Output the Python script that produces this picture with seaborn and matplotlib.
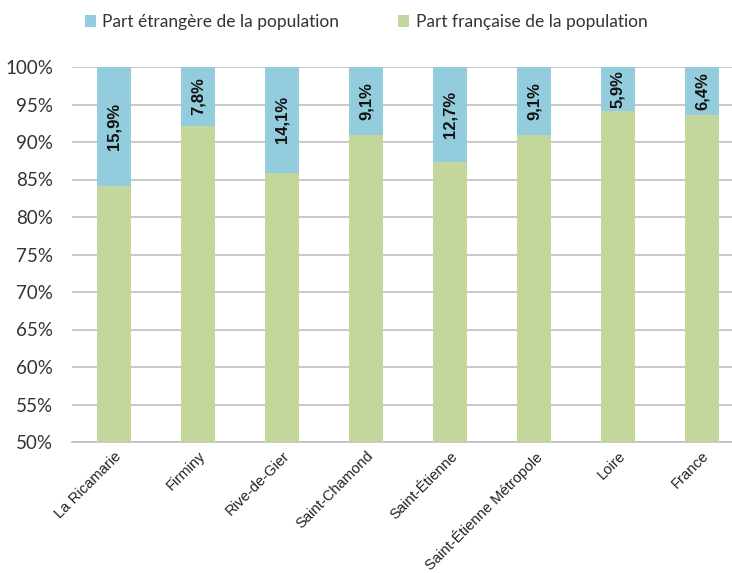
import matplotlib
matplotlib.use("Agg")
import matplotlib.pyplot as plt
import seaborn as sns
import pandas as pd
from matplotlib.patches import Patch
from matplotlib.ticker import FuncFormatter

territoires = ["La Ricamarie", "Firminy", "Rive-de-Gier", "Saint-Chamond",
               "Saint-Étienne", "Saint-Étienne Métropole", "Loire", "France"]
part_etrangere = [15.9, 7.8, 14.1, 9.1, 12.7, 9.1, 5.9, 6.4]
part_francaise = [100 - v for v in part_etrangere]
yticks = [50, 55, 60, 65, 70, 75, 80, 85, 90, 95, 100]

BLEU = "#93CDDD"
VERT = "#C3D69B"
GRILLE = "#BFBFBF"

df = pd.DataFrame({
    "territoire": territoires,
    "etrangere": part_etrangere,
    "francaise": part_francaise,
})
df["total"] = df["etrangere"] + df["francaise"]

sns.set_theme(style="white")
plt.rcParams["font.family"] = ["Liberation Sans", "DejaVu Sans"]

fig = plt.figure(figsize=(7.32, 5.73), dpi=100)
ax = fig.add_axes([72 / 732, 1 - 442 / 573, 1 - 72 / 732, 375 / 573])

# stacked bars: full height in blue, French share drawn over it in green
sns.barplot(data=df, x="territoire", y="total", color=BLEU, width=0.4,
            saturation=1, linewidth=0, edgecolor="none", ax=ax, zorder=2)
sns.barplot(data=df, x="territoire", y="francaise", color=VERT, width=0.4,
            saturation=1, linewidth=0, edgecolor="none", ax=ax, zorder=3)

ax.set_ylim(50, 100)
ax.set_xlim(-0.5, (732 - 72) / 84 - 0.5)
ax.set_yticks(yticks)
ax.yaxis.set_major_formatter(FuncFormatter(lambda v, p: f"{v:.0f}%"))
ax.yaxis.grid(True, color=GRILLE, linewidth=1.2, zorder=0)
ax.set_axisbelow(True)
ax.set_xlabel("")
ax.set_ylabel("")

for s in ["top", "right", "left"]:
    ax.spines[s].set_visible(False)
ax.spines["bottom"].set_color(GRILLE)
ax.spines["bottom"].set_linewidth(1.2)

ax.tick_params(axis="y", length=0, pad=13.5, labelsize=13.5, labelcolor="#333333")
for lab in ax.get_yticklabels():
    lab.set_fontfamily(["Lato", "DejaVu Sans"])

# x ticks sit between categories, labels under each bar
ax.set_xticks([i + 0.5 for i in range(len(territoires) - 1)], minor=False)
ax.set_xticklabels([])
ax.tick_params(axis="x", length=5, color=GRILLE, width=1.2, direction="out")
ax.set_xticks(range(len(territoires)), minor=True)
ax.set_xticklabels(territoires, minor=True, rotation=45, ha="right",
                   rotation_mode="anchor", fontsize=10.6, color="#222222")
ax.tick_params(axis="x", which="minor", length=0, pad=5)

# value labels centred in the foreign-share segment
for i, (e, f) in enumerate(zip(part_etrangere, part_francaise)):
    txt = f"{e:.1f}%".replace(".", ",")
    ax.text(i, f + e / 2, txt, rotation=90, ha="center", va="center",
            fontsize=12, fontweight="bold", color="#111111", zorder=4)

handles = [Patch(facecolor=BLEU, edgecolor="none"),
           Patch(facecolor=VERT, edgecolor="none")]
leg = fig.legend(handles, ["Part étrangère de la population",
                           "Part française de la population"],
                 loc="center", bbox_to_anchor=(366 / 732, 1 - 22 / 573), ncol=2,
                 frameon=False, handlelength=0.65, handleheight=0.65,
                 handletextpad=0.35, columnspacing=3.4,
                 prop={"family": ["Lato", "DejaVu Sans"], "size": 12.5})
for t in leg.get_texts():
    t.set_color("#333333")

fig.savefig("out.png", dpi=100)
